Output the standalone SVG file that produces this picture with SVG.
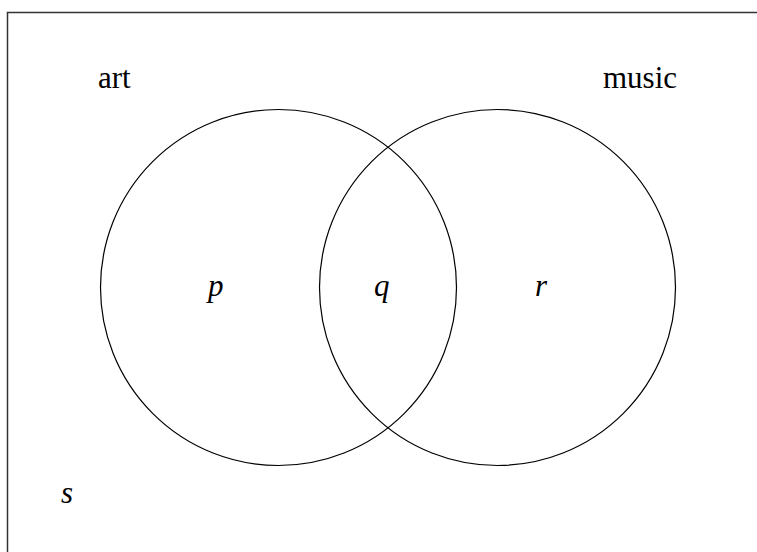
<svg xmlns="http://www.w3.org/2000/svg" width="757" height="552" viewBox="0 0 757 552">
<style>
.b{fill:none;stroke:#000;stroke-width:1.2}
.t{font-family:"Liberation Serif","Times New Roman",Times,serif;font-size:31px;fill:#000}
.i{font-style:italic}
</style>
<rect width="757" height="552" fill="#fff"/>
<rect id="frame" x="7.5" y="12.5" width="760" height="560" fill="none" stroke="#333" stroke-width="1.5"/>
<g id="art">
<circle class="b" cx="278.5" cy="287.5" r="178"/>
<text class="t" x="98" y="88" font-family="Liberation Serif, serif">art</text>
</g>
<g id="music">
<circle class="b" cx="497.5" cy="287.5" r="178"/>
<text class="t" x="603" y="88" font-family="Liberation Serif, serif">music</text>
</g>
<g id="labels">
<text class="t i" x="208" y="296" font-family="Liberation Serif, serif">p</text>
<text class="t i" x="374" y="296" font-family="Liberation Serif, serif">q</text>
<text class="t i" x="535" y="296" font-family="Liberation Serif, serif">r</text>
<text class="t i" x="61" y="503" font-family="Liberation Serif, serif">s</text>
</g>
<g id="connectors"></g>
</svg>
